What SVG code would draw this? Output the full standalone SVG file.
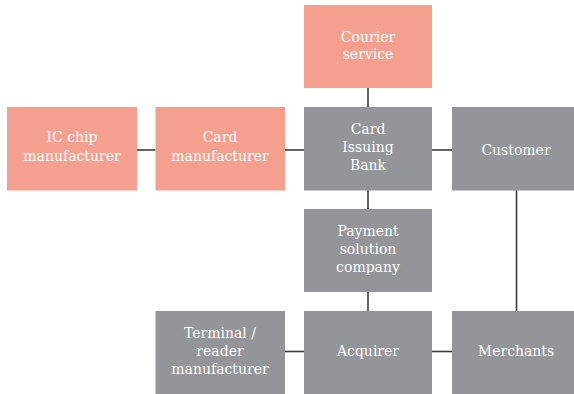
<svg xmlns="http://www.w3.org/2000/svg" width="574" height="394" viewBox="0 0 574 394">
  <style>
    .salmon { fill: #f59f8f; }
    .grey { fill: #939598; }
    .lbl { fill: #ffffff; font-family: "DejaVu Serif", "Liberation Serif", serif; font-size: 14px; text-anchor: middle; }
    .wire { stroke: #3a3a3a; stroke-width: 1.6; fill: none; }
  </style>
  <rect width="574" height="394" fill="#ffffff"/>

  <g id="connectors">
    <line class="wire" x1="368" y1="88" x2="368" y2="107"/>
    <line class="wire" x1="137" y1="150" x2="155.5" y2="150"/>
    <line class="wire" x1="285" y1="150" x2="304" y2="150"/>
    <line class="wire" x1="432" y1="150" x2="452" y2="150"/>
    <line class="wire" x1="368" y1="190" x2="368" y2="209"/>
    <line class="wire" x1="368" y1="292" x2="368" y2="311"/>
    <line class="wire" x1="516.5" y1="190" x2="516.5" y2="311"/>
    <line class="wire" x1="285" y1="351.5" x2="304" y2="351.5"/>
    <line class="wire" x1="432" y1="351.5" x2="452" y2="351.5"/>
  </g>

  <g id="courier">
    <rect class="salmon" x="304" y="5" width="128" height="83"/>
    <text class="lbl" x="368" y="42">Courier</text>
    <text class="lbl" x="368" y="59">service</text>
  </g>

  <g id="ic-chip">
    <rect class="salmon" x="7" y="107" width="130" height="83.5"/>
    <text class="lbl" x="72" y="142">IC chip</text>
    <text class="lbl" x="72" y="161">manufacturer</text>
  </g>

  <g id="card-manufacturer">
    <rect class="salmon" x="155.5" y="107" width="129.5" height="83.5"/>
    <text class="lbl" x="220" y="142">Card</text>
    <text class="lbl" x="220" y="161">manufacturer</text>
  </g>

  <g id="issuing-bank">
    <rect class="grey" x="304" y="107" width="128" height="83.5"/>
    <text class="lbl" x="368" y="134">Card</text>
    <text class="lbl" x="368" y="152">Issuing</text>
    <text class="lbl" x="368" y="170">Bank</text>
  </g>

  <g id="customer">
    <rect class="grey" x="452" y="107" width="128" height="83.5"/>
    <text class="lbl" x="516" y="155">Customer</text>
  </g>

  <g id="payment-solution">
    <rect class="grey" x="304" y="209" width="128" height="83"/>
    <text class="lbl" x="368" y="236">Payment</text>
    <text class="lbl" x="368" y="254">solution</text>
    <text class="lbl" x="368" y="272">company</text>
  </g>

  <g id="terminal-manufacturer">
    <rect class="grey" x="155.5" y="311" width="129.5" height="83"/>
    <text class="lbl" x="220" y="338">Terminal /</text>
    <text class="lbl" x="220" y="356">reader</text>
    <text class="lbl" x="220" y="374">manufacturer</text>
  </g>

  <g id="acquirer">
    <rect class="grey" x="304" y="311" width="128" height="83"/>
    <text class="lbl" x="368" y="356">Acquirer</text>
  </g>

  <g id="merchants">
    <rect class="grey" x="452" y="311" width="128" height="83"/>
    <text class="lbl" x="516" y="356">Merchants</text>
  </g>
</svg>
